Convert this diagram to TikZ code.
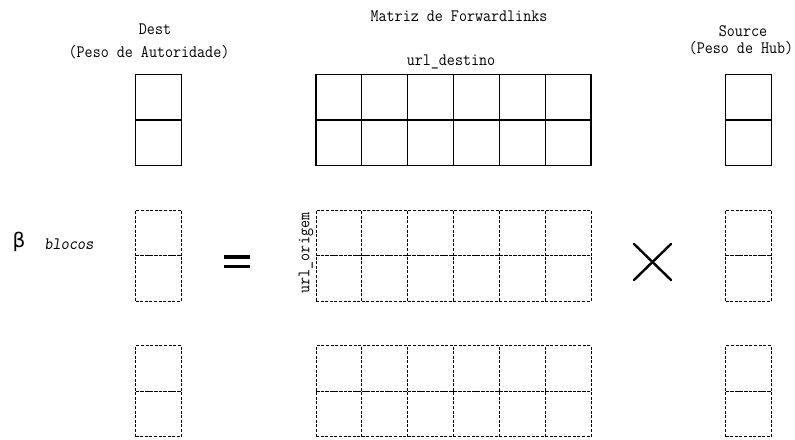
\documentclass[tikz,border=0pt]{standalone}
\usepackage{fontspec}
\usepackage{graphicx}
\newfontfamily\dejavu{DejaVu Sans}
\newcommand{\tallt}[1]{\scalebox{1}[1.12]{#1}}
\begin{document}
\begin{tikzpicture}[x=1pt,y=-1pt,
  cellsolid/.style={draw=black,line width=1.1pt,minimum width=45.8pt,minimum height=45.8pt,inner sep=0pt,outer sep=0pt},
  celldash/.style={draw=black,line width=0.9pt,dash pattern=on 3pt off 1.6pt,minimum width=45.8pt,minimum height=45.5pt,inner sep=0pt,outer sep=0pt},
  lbl/.style={font=\ttfamily\fontsize{15.6}{17}\selectfont,inner sep=0pt}]
\useasboundingbox (0,0) rectangle (795,439);
% titles
\node[lbl] (tdest) at (155,29) {\tallt{Dest}};
\node[lbl] (tdest2) at (149,52) {\tallt{(Peso de Autoridade)}};
\node[lbl] (tmat) at (459,16) {\tallt{Matriz de Forwardlinks}};
\node[lbl] (tsrc) at (743,31) {\tallt{Source}};
\node[lbl] (tsrc2) at (741,48) {\tallt{(Peso de Hub)}};
\node[lbl] (turld) at (451,62) {\tallt{url\_destino}};
\node[lbl,rotate=90] (turlo) at (306,253) {\tallt{url\_origem}};
\node[font=\dejavu\fontsize{20}{22}\selectfont,inner sep=0pt] (beta) at (19,242) {β};
\node[font=\ttfamily\slshape\fontsize{15.6}{17}\selectfont,inner sep=0pt] (blocos) at (69,244) {\tallt{blocos}};
% block 1 (solid)
\foreach \r/\yc in {a/97,b/143}{
  \node[cellsolid] (d1\r) at (158.5,\yc) {};
  \node[cellsolid] (s1\r) at (748.5,\yc) {};
  \foreach \c in {0,...,5}{
    \node[cellsolid] (m1\r\c) at ({338.9+45.83*\c},\yc) {};
  }
}
% blocks 2 and 3 (dashed)
\foreach \b/\ya/\yb in {2/233/278.5,3/368.5/414}{
  \foreach \r/\yc in {a/\ya,b/\yb}{
    \node[celldash] (d\b\r) at (158.5,\yc) {};
    \node[celldash] (s\b\r) at (748.5,\yc) {};
    \foreach \c in {0,...,5}{
      \node[celldash] (m\b\r\c) at ({338.9+45.83*\c},\yc) {};
    }
  }
}
% equals sign
\draw[line width=3.2pt] (224,257) -- (250,257);
\draw[line width=3.2pt] (224,266.5) -- (250,266.5);
% times sign
\draw[line width=2.4pt,line cap=round] (634,244) -- (671,280);
\draw[line width=2.4pt,line cap=round] (634,280) -- (671,244);
\end{tikzpicture}
\end{document}
